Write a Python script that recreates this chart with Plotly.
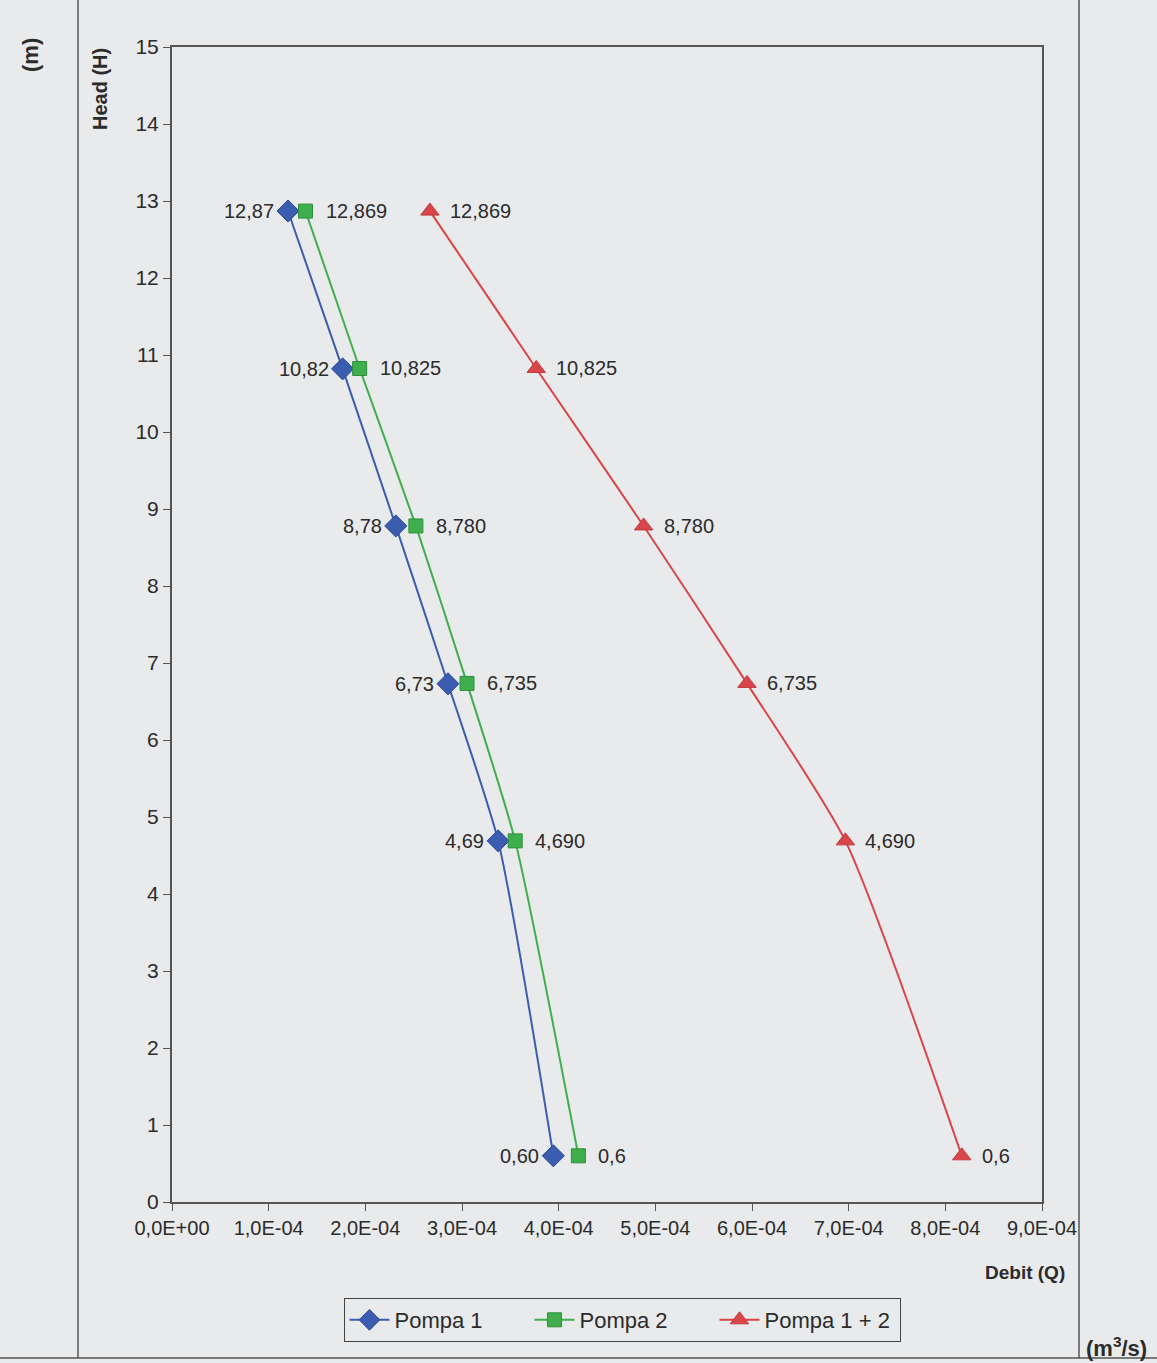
import plotly.graph_objects as go

# Data (Debit Q in m3/s, Head H in m)
head_p1 = [12.87, 10.82, 8.78, 6.73, 4.69, 0.60]
q_p1 = [1.20e-4, 1.765e-4, 2.315e-4, 2.855e-4, 3.374e-4, 3.945e-4]
lbl_p1 = ["12,87", "10,82", "8,78", "6,73", "4,69", "0,60"]

head_p2 = [12.869, 10.825, 8.780, 6.735, 4.690, 0.6]
q_p2 = [1.381e-4, 1.941e-4, 2.523e-4, 3.052e-4, 3.550e-4, 4.204e-4]
lbl_p2 = ["12,869", "10,825", "8,780", "6,735", "4,690", "0,6"]

head_p12 = [12.869, 10.825, 8.780, 6.735, 4.690, 0.6]
q_p12 = [2.668e-4, 3.768e-4, 4.879e-4, 5.948e-4, 6.966e-4, 8.17e-4]
lbl_p12 = ["12,869", "10,825", "8,780", "6,735", "4,690", "0,6"]

x_tickvals = [0, 1e-4, 2e-4, 3e-4, 4e-4, 5e-4, 6e-4, 7e-4, 8e-4, 9e-4]
x_ticktext = ["0,0E+00", "1,0E-04", "2,0E-04", "3,0E-04", "4,0E-04",
              "5,0E-04", "6,0E-04", "7,0E-04", "8,0E-04", "9,0E-04"]
y_tickvals = list(range(0, 16))

FONT = "Liberation Sans, Arial, sans-serif"
TXT = "#2b2b2b"
BG = "#e9eaec"
AX = "#555555"

W, H = 1157, 1363
L, R, T, B = 172, 1157 - 1042, 47, 1363 - 1202
pw, ph = W - L - R, H - T - B

def px(x):
    return (x - L) / pw

def py(y):
    return (H - B - y) / ph

fig = go.Figure()
series = [
    ("Pompa 1", q_p1, head_p1, lbl_p1, "#3a5db0", "#2c4a96", "diamond", 17, "right", -12),
    ("Pompa 2", q_p2, head_p2, lbl_p2, "#3fae4d", "#2e8f3c", "square", 14, "left", 18),
    ("Pompa 1 + 2", q_p12, head_p12, lbl_p12, "#d9464a", "#c03a3e", "triangle-up", 16, "left", 18),
]
annotations = []
for name, xs, ys, lbls, col, edge, sym, size, anchor, shift in series:
    fig.add_trace(go.Scatter(
        x=xs, y=ys, name=name, mode="lines+markers",
        line=dict(color=col, width=2, shape="spline", smoothing=0.6),
        marker=dict(symbol=sym, size=size, color=col, line=dict(color=edge, width=1)),
    ))
    for xv, yv, t in zip(xs, ys, lbls):
        annotations.append(dict(
            x=xv, y=yv, xref="x", yref="y", text=t, showarrow=False,
            xanchor=anchor, yanchor="middle", xshift=shift,
            font=dict(family=FONT, size=20, color=TXT),
        ))

annotations += [
    dict(text="<b>Head (H)</b>", x=px(100), y=py(89), xref="paper", yref="paper",
         xanchor="center", yanchor="middle",
         showarrow=False, textangle=-90, font=dict(family=FONT, size=20, color=TXT)),
    dict(text="<b>(m)</b>", x=px(31), y=py(55), xref="paper", yref="paper",
         xanchor="center", yanchor="middle",
         showarrow=False, textangle=-90, font=dict(family=FONT, size=22, color=TXT)),
    dict(text="<b>Debit (Q)</b>", x=px(1025), y=py(1272), xref="paper", yref="paper",
         xanchor="center", yanchor="middle",
         showarrow=False, font=dict(family=FONT, size=19, color=TXT)),
    dict(text="<b>(m<sup>3</sup>/s)</b>", x=px(1116), y=py(1347), xref="paper", yref="paper",
         xanchor="center", yanchor="middle",
         showarrow=False, font=dict(family=FONT, size=22, color=TXT)),
]

fig.update_layout(
    width=W, height=H,
    margin=dict(l=L, r=R, t=T, b=B, pad=0),
    paper_bgcolor=BG, plot_bgcolor=BG,
    font=dict(family=FONT, color=TXT),
    showlegend=True,
    legend=dict(
        orientation="h", x=px(622), y=py(1320), xanchor="center", yanchor="middle",
        bordercolor="#444444", borderwidth=1, bgcolor="rgba(0,0,0,0)",
        font=dict(family=FONT, size=22, color=TXT),
        itemwidth=40, entrywidth=130, entrywidthmode="pixels",
    ),
    xaxis=dict(
        range=[0, 9e-4], tickvals=x_tickvals, ticktext=x_ticktext,
        showgrid=False, zeroline=False, showline=True, linecolor=AX, linewidth=2,
        mirror=True, ticks="outside", ticklen=7, tickcolor=AX,
        tickfont=dict(family=FONT, size=20, color=TXT),
    ),
    yaxis=dict(
        range=[0, 15], tickvals=y_tickvals,
        showgrid=False, zeroline=False, showline=True, linecolor=AX, linewidth=2,
        mirror=True, ticks="outside", ticklen=7, tickcolor=AX,
        tickfont=dict(family=FONT, size=21, color=TXT),
    ),
    annotations=annotations,
    shapes=[
        dict(type="line", xref="paper", yref="paper", x0=px(78), x1=px(78), y0=py(-5), y1=py(1358),
             line=dict(color=AX, width=1.5)),
        dict(type="line", xref="paper", yref="paper", x0=px(1079), x1=px(1079), y0=py(-5), y1=py(1358),
             line=dict(color=AX, width=1.5)),
        dict(type="line", xref="paper", yref="paper", x0=px(0), x1=px(1157), y0=py(1358), y1=py(1358),
             line=dict(color=AX, width=1.5)),
    ],
)

fig.write_html(
    "out.html",
    config={"displayModeBar": False},
    post_script="document.body.style.margin='0';document.body.style.background='#e9eaec';",
)
